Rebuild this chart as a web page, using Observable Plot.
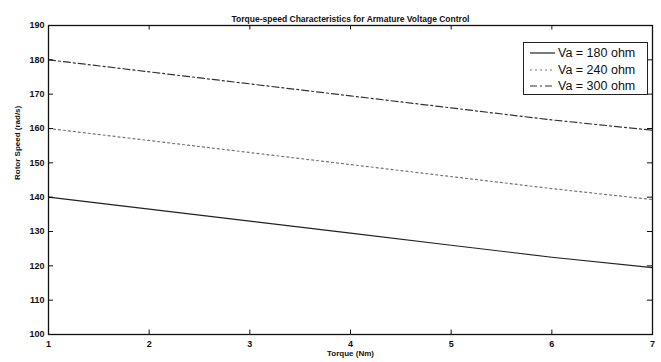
<!DOCTYPE html>
<html><head><meta charset="utf-8">
<script src="https://cdn.jsdelivr.net/npm/d3@7"></script>
<script src="https://cdn.jsdelivr.net/npm/@observablehq/plot@0.6"></script>
<style>
body{margin:0;background:#fff}
#c{position:relative;width:661px;height:362px;overflow:hidden}
#legend{position:absolute;left:523px;top:42px;width:125px;height:53px;border:1px solid #222;background:#fff;font-family:"Liberation Sans",Arial,sans-serif;font-size:12.5px;color:#111;padding-top:2px;box-sizing:border-box}
#legend .row{display:flex;align-items:center;height:16.5px}
#legend svg{margin:0 3px 0 6px}
</style>
</head><body><div id="c"></div>
<script>
const title = "Torque-speed Characteristics for Armature Voltage Control";
const xLabel = "Torque (Nm)";
const yLabel = "Rotor Speed (rad/s)";
const xTicks = [1, 2, 3, 4, 5, 6, 7];
const yTicks = [100, 110, 120, 130, 140, 150, 160, 170, 180, 190];
const torque = [1, 2, 3, 4, 5, 6, 7];
const seriesNames = ["Va = 180 ohm", "Va = 240 ohm", "Va = 300 ohm"];
const speed180 = [140, 136.5, 133, 129.5, 126, 122.5, 119.5];
const speed240 = [160, 156.5, 153, 149.5, 146, 142.5, 139.3];
const speed300 = [180, 176.5, 173, 169.5, 166, 162.5, 159.5];
const seriesValues = [speed180, speed240, speed300];
const dashes = [null, "2,3", "7,3,2,3"];
const strokes = ["#222", "#777", "#333"];

const rows = seriesValues.map((vals, i) => torque.map((t, j) => ({torque: t, speed: vals[j], series: seriesNames[i]})));

const font = "'Liberation Sans', Arial, sans-serif";
const plot = Plot.plot({
  width: 661, height: 362,
  marginLeft: 48, marginRight: 9, marginTop: 25, marginBottom: 28,
  style: {fontFamily: font, fontSize: "9px", background: "#fff", color: "#111"},
  x: {domain: [1, 7], label: null},
  y: {domain: [100, 190], label: null},
  marks: [
    ...rows.map((r, i) => Plot.line(r, {x: "torque", y: "speed", stroke: strokes[i], strokeWidth: 1.2, strokeDasharray: dashes[i]})),
    Plot.frame({stroke: "#111", strokeWidth: 1.3}),
    Plot.axisX(xTicks, {tickSize: 0, tickPadding: 6, fontWeight: "bold", label: null}),
    Plot.axisY(yTicks, {tickSize: 0, tickPadding: 4, fontWeight: "bold", label: null}),
    Plot.ruleX(xTicks, {y1: 100, y2: 101.3, stroke: "#111"}),
    Plot.ruleX(xTicks, {y1: 190, y2: 188.7, stroke: "#111"}),
    Plot.ruleY(yTicks, {x1: 1, x2: 1.05, stroke: "#111"}),
    Plot.ruleY(yTicks, {x1: 7, x2: 6.95, stroke: "#111"}),
    Plot.text([title], {frameAnchor: "top", dy: -10, fontSize: 8.5, fontWeight: "bold", fill: "#111"}),
    Plot.text([xLabel], {frameAnchor: "bottom", dy: 21, fontSize: 8, fontWeight: "bold", fill: "#111"}),
    Plot.text([yLabel], {frameAnchor: "left", dx: -31, rotate: -90, fontSize: 8, fontWeight: "bold", fill: "#111"})
  ]
});
const c = document.getElementById("c");
c.appendChild(plot);
const lg = document.createElement("div");
lg.id = "legend";
seriesNames.forEach((n, i) => {
  const row = document.createElement("div");
  row.className = "row";
  row.innerHTML = `<svg width="25" height="8"><line x1="0" y1="4" x2="25" y2="4" stroke="${strokes[i]}" stroke-width="1.2" ${dashes[i] ? `stroke-dasharray="${dashes[i]}"` : ""}/></svg><span>${n}</span>`;
  lg.appendChild(row);
});
c.appendChild(lg);
</script>
</body></html>
